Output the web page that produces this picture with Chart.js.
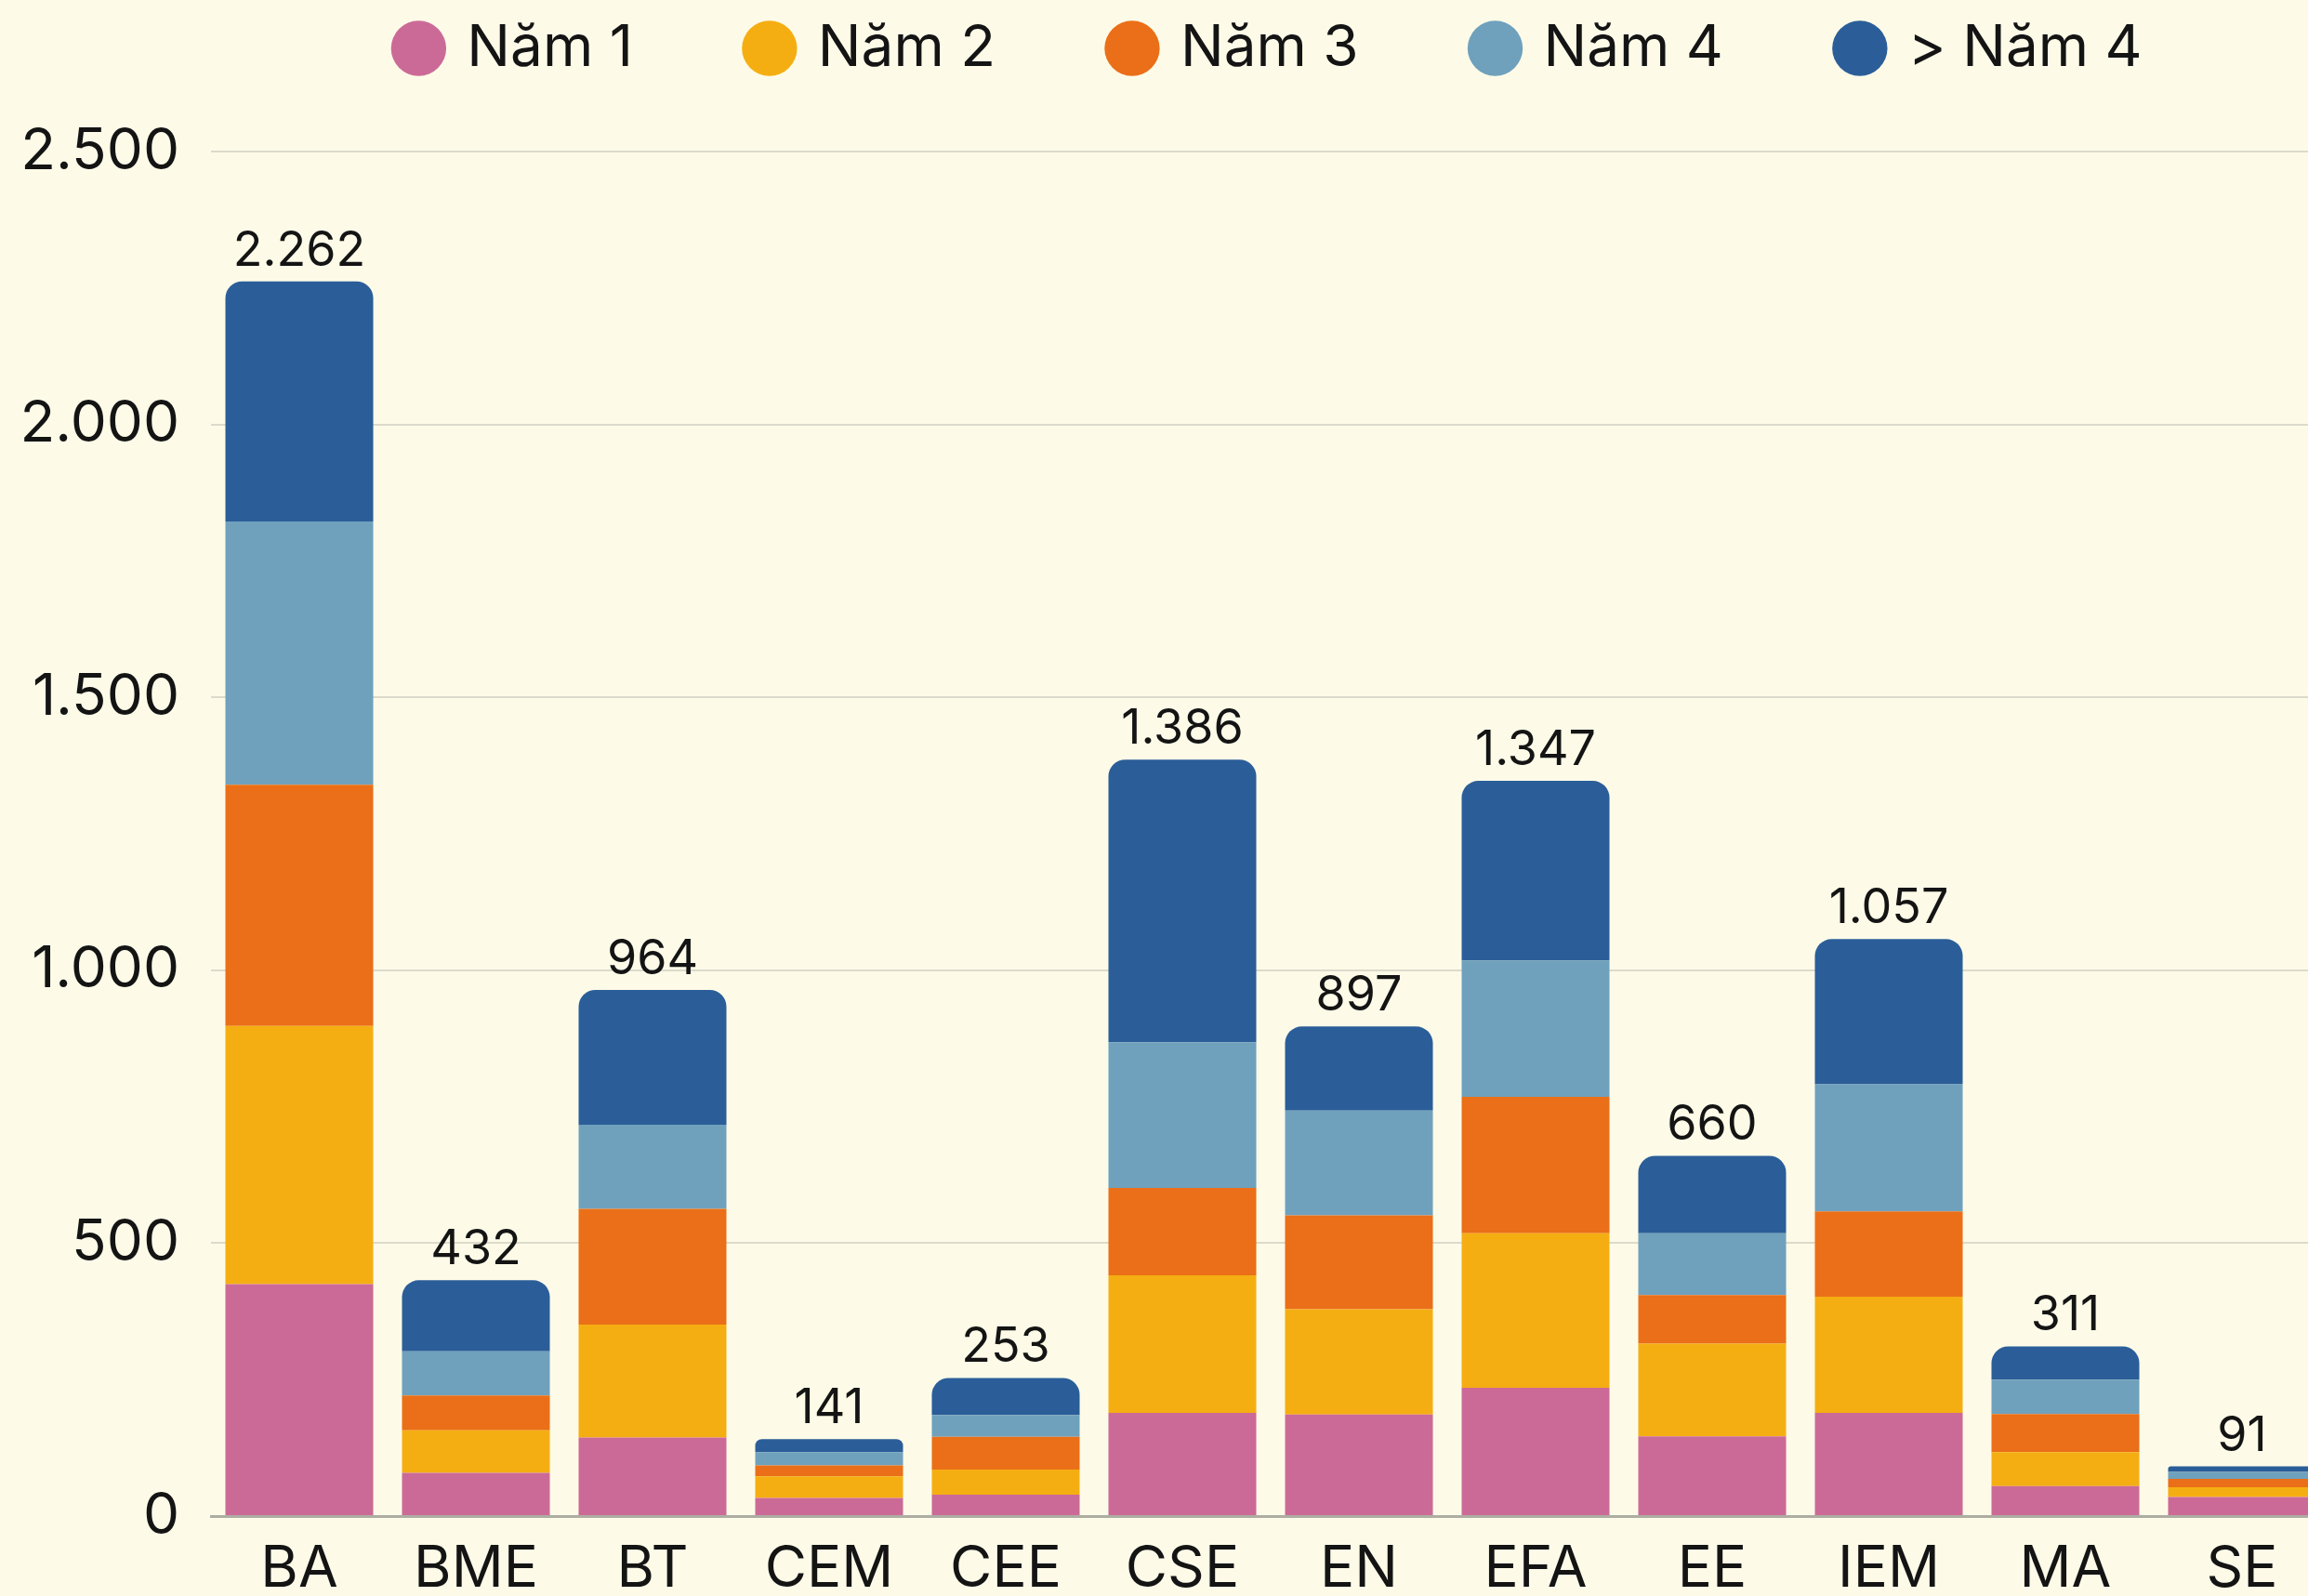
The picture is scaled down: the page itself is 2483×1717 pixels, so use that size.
<!DOCTYPE html>
<html>
<head>
<meta charset="utf-8">
<script src="https://cdn.jsdelivr.net/npm/chart.js@4.4.1/dist/chart.umd.min.js"></script>
<style>
  body { margin: 0; background: #FDFBE8; }
  #wrap { position: relative; width: 2483px; height: 1717px; overflow: hidden; background: #FDFBE8; }
  #myChart { position: absolute; left: 0; top: -108px; }
</style>
</head>
<body>
<div id="wrap"><canvas id="myChart" width="2507" height="1834"></canvas></div>
<script>
//Data
var categories = ["BA", "BME", "BT", "CEM", "CEE", "CSE", "EN", "EFA", "EE", "IEM", "MA", "SE"];
var seriesNames = ["Năm 1", "Năm 2", "Năm 3", "Năm 4", "> Năm 4"];
var nam1 = [425, 79, 144, 33, 39, 189, 186, 235, 146, 189, 55, 35];
var nam2 = [473, 78, 207, 40, 46, 252, 193, 283, 170, 213, 62, 18];
var nam3 = [442, 64, 212, 20, 60, 160, 172, 250, 89, 156, 70, 15];
var nam4 = [482, 81, 154, 24, 40, 267, 192, 250, 113, 233, 63, 13];
var namOver4 = [440, 130, 247, 24, 68, 518, 154, 329, 142, 266, 61, 10];
var yTicks = [0, 500, 1000, 1500, 2000, 2500];

var colors = ["#CC6A97", "#F5AE12", "#EA6F18", "#6FA1BD", "#2B5E99"];
var allSeries = [nam1, nam2, nam3, nam4, namOver4];

//Thousands with a dot, like 2.262
function fmt(v) {
    return String(v).replace(/\B(?=(\d{3})+(?!\d))/g, '.');
}

Chart.defaults.font.family = 'Inter';
Chart.defaults.color = '#141414';

//Totals above each stack
const totalLabels = {
    id: 'totalLabels',
    afterDatasetsDraw(chart) {
        const ctx = chart.ctx;
        const x = chart.scales.x, y = chart.scales.y;
        ctx.save();
        ctx.font = '52px Inter';
        ctx.fillStyle = '#141414';
        ctx.textAlign = 'center';
        ctx.textBaseline = 'alphabetic';
        categories.forEach(function(c, i) {
            var total = allSeries.reduce(function(s, arr) { return s + arr[i]; }, 0);
            ctx.fillText(fmt(total), x.getPixelForValue(i), y.getPixelForValue(total) - 17);
        });
        ctx.restore();
    }
};

//More room between legend and plot
const legendGap = {
    id: 'legendGap',
    beforeInit(chart) {
        const origFit = chart.legend.fit;
        chart.legend.fit = function() {
            origFit.call(this);
            this.height += 70;
        };
    }
};

const datasets = allSeries.map(function(arr, k) {
    var ds = {
        label: seriesNames[k],
        data: arr,
        backgroundColor: colors[k],
        borderWidth: 0,
        barPercentage: 0.837,
        categoryPercentage: 1.0
    };
    if (k === allSeries.length - 1) {
        ds.borderRadius = {topLeft: 18, topRight: 18, bottomLeft: 0, bottomRight: 0};
        ds.borderSkipped = false;
    }
    return ds;
});

const config = {
    type: 'bar',
    data: { labels: categories, datasets: datasets },
    options: {
        responsive: false,
        animation: false,
        devicePixelRatio: 1,
        layout: { padding: { top: 3, left: 0, right: 0, bottom: 0 } },
        plugins: {
            legend: {
                display: true,
                position: 'top',
                fullSize: false,
                labels: {
                    usePointStyle: true,
                    pointStyle: 'circle',
                    boxWidth: 42,
                    boxHeight: 42,
                    padding: 126,
                    color: '#141414',
                    font: { size: 62 }
                }
            },
            tooltip: { enabled: false }
        },
        scales: {
            x: {
                stacked: true,
                grid: { display: false, drawTicks: false },
                border: { display: true, color: '#AEADA2', width: 3 },
                afterFit: function(scale) { scale.height = 95; },
                ticks: { font: { size: 62 }, padding: 20, color: '#141414', maxRotation: 0 }
            },
            y: {
                stacked: true,
                min: 0,
                max: 2500,
                afterBuildTicks: function(scale) {
                    scale.ticks = yTicks.map(function(v) { return {value: v}; });
                },
                afterFit: function(scale) { scale.width = 227; },
                grid: {
                    drawTicks: false,
                    lineWidth: 2,
                    color: function(c) { return c.tick && c.tick.value === 0 ? 'rgba(0,0,0,0)' : '#DCDACB'; }
                },
                border: { display: false },
                ticks: {
                    font: { size: 62 },
                    padding: 34,
                    color: '#141414',
                    callback: function(v) { return fmt(v); }
                }
            }
        }
    },
    plugins: [totalLabels, legendGap]
};

var canvas = document.getElementById('myChart').getContext('2d');
var myChart = new Chart(canvas, config);
</script>
</body>
</html>
